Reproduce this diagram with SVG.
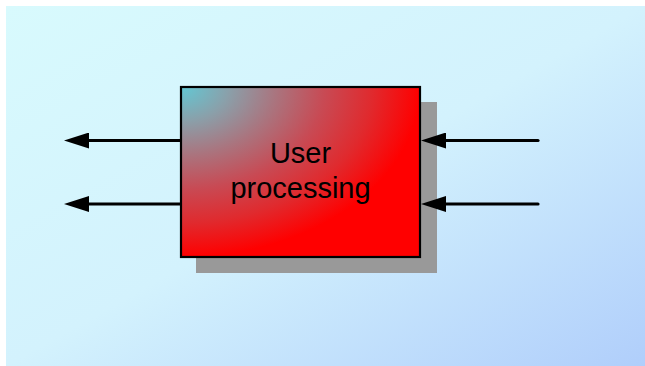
<svg xmlns="http://www.w3.org/2000/svg" width="645" height="366" viewBox="0 0 645 366">
  <defs>
    <linearGradient id="bg" x1="0" y1="0" x2="1" y2="1">
      <stop offset="0" stop-color="#d8fafd"/>
      <stop offset="0.5" stop-color="#d3f2fd"/>
      <stop offset="1" stop-color="#b0cefb"/>
    </linearGradient>
    <!-- fill fades from teal in the top-left corner out to red -->
    <radialGradient id="boxFill" cx="0" cy="0" r="1" fx="0" fy="0">
      <stop offset="0" stop-color="#62c8d4"/>
      <stop offset="0.2" stop-color="#8aa0aa"/>
      <stop offset="0.4" stop-color="#aa747e"/>
      <stop offset="0.6" stop-color="#c84a54"/>
      <stop offset="0.8" stop-color="#e02a2e"/>
      <stop offset="1" stop-color="#ff0000"/>
    </radialGradient>
    <!-- arrowhead: base sits at the line end, tip points along the line -->
    <marker id="head" viewBox="0 0 25 16" refX="0" refY="8" markerWidth="25" markerHeight="16" markerUnits="userSpaceOnUse" orient="auto">
      <path d="M0,0 L25,8 L0,16 Z" fill="#000"/>
    </marker>
    <style>
      .label { font-family: "Liberation Sans", Arial, sans-serif; font-size: 29px; fill: #000; text-anchor: middle; }
      .flow { stroke: #000; stroke-width: 3.2; fill: none; stroke-linecap: butt; }
      .in { stroke-linecap: round; }
    </style>
  </defs>

  <rect x="6" y="6" width="639" height="360" fill="url(#bg)"/>

  <g id="user-processing">
    <rect x="196" y="102" width="241" height="171" fill="#999999"/>
    <rect x="181" y="87" width="239" height="170" fill="url(#boxFill)" stroke="#000" stroke-width="2.2"/>
    <text class="label" x="300.5" y="163">User</text>
    <text class="label" x="300.5" y="198">processing</text>
  </g>

  <g id="connectors">
    <!-- outputs leaving the left side -->
    <line class="flow" x1="181" y1="140.5" x2="89" y2="140.5" marker-end="url(#head)"/>
    <line class="flow" x1="181" y1="204" x2="89" y2="204" marker-end="url(#head)"/>
    <!-- inputs entering the right side -->
    <line class="flow in" x1="538" y1="140.5" x2="446" y2="140.5" marker-end="url(#head)"/>
    <line class="flow in" x1="538" y1="204" x2="446" y2="204" marker-end="url(#head)"/>
  </g>
</svg>
